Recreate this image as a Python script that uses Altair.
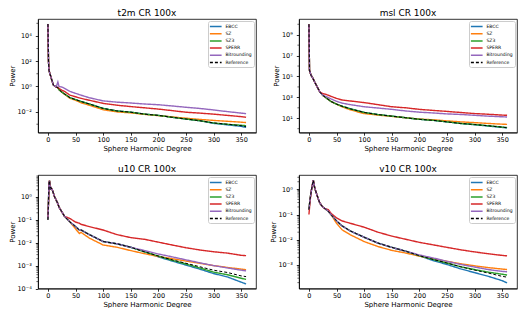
import altair as alt
import pandas as pd

METHODS = ["EBCC", "SZ", "SZ3", "SPERR", "Bitrounding", "Reference"]
COLORS = ["#1f77b4", "#ff7f0e", "#2ca02c", "#d62728", "#9467bd", "#000000"]
DASHES = [[1, 0], [1, 0], [1, 0], [1, 0], [1, 0], [3, 2]]
X_TICKS = [0, 50, 100, 150, 200, 250, 300, 350]

# ---------------- t2m ----------------
T2M_DEG = [0, 1, 2, 3, 5, 7, 10, 15, 18, 20, 25, 30, 40, 50, 60, 75, 100, 125, 150, 175, 200, 225, 250, 275, 300, 325, 350, 359]
T2M_REF = [89000, 100, 17.8, 12.6, 6.3, 3.2, 1.26, 0.89, 0.79, 0.56, 0.355, 0.25, 0.126, 0.089, 0.063, 0.040, 0.0178, 0.0112, 0.0089, 0.0063, 0.0050, 0.00355, 0.0026, 0.0019, 0.00126, 0.0010, 0.00076, 0.00063]
T2M_EBCC = [89000, 100, 17.8, 12.6, 6.3, 3.2, 1.26, 0.89, 0.79, 0.56, 0.355, 0.25, 0.126, 0.089, 0.063, 0.040, 0.0178, 0.0112, 0.0089, 0.0063, 0.0050, 0.00355, 0.0026, 0.0019, 0.00117, 0.00089, 0.00068, 0.00056]
T2M_SZ3 = [89000, 100, 17.8, 12.6, 6.3, 3.2, 1.26, 0.89, 0.79, 0.56, 0.355, 0.25, 0.126, 0.089, 0.063, 0.040, 0.0178, 0.0112, 0.0089, 0.0063, 0.0050, 0.00355, 0.0026, 0.0019, 0.00126, 0.00098, 0.00083, 0.00076]
T2M_SZ = [89000, 100, 17.8, 12.6, 6.3, 3.2, 1.26, 0.89, 0.79, 0.56, 0.355, 0.24, 0.112, 0.079, 0.050, 0.032, 0.0141, 0.0095, 0.0079, 0.0060, 0.0048, 0.0038, 0.0030, 0.0024, 0.0020, 0.0017, 0.00145, 0.00135]
T2M_SPERR = [89000, 100, 17.8, 12.6, 6.3, 3.2, 1.26, 0.89, 0.79, 0.71, 0.50, 0.40, 0.20, 0.15, 0.112, 0.079, 0.045, 0.032, 0.025, 0.020, 0.0158, 0.012, 0.0089, 0.0076, 0.0063, 0.0050, 0.0040, 0.00355]
T2M_BIT = [89000, 100, 17.8, 12.6, 6.3, 3.2, 1.26, 0.89, 2.24, 1.0, 0.89, 0.71, 0.40, 0.28, 0.20, 0.126, 0.071, 0.056, 0.048, 0.040, 0.035, 0.028, 0.022, 0.0178, 0.0135, 0.010, 0.0076, 0.0068]

# ---------------- msl ----------------
MSL_DEG = [0, 1, 2, 4, 7, 10, 15, 20, 25, 30, 40, 50, 60, 75, 100, 125, 150, 175, 200, 225, 250, 275, 300, 325, 350, 359]
MSL_REF = [1.0e10, 4.0e5, 2.5e5, 1.26e5, 7.1e4, 3.2e4, 1.0e4, 3160, 1580, 1000, 400, 224, 141, 79, 35.5, 22.4, 15.8, 11.2, 7.9, 6.3, 4.5, 3.16, 2.5, 1.9, 1.41, 1.26]
MSL_EBCC = [1.0e10, 4.0e5, 2.5e5, 1.26e5, 7.1e4, 3.2e4, 1.0e4, 3160, 1580, 1000, 400, 224, 141, 79, 35.5, 22.4, 15.8, 11.2, 7.9, 6.3, 4.5, 3.16, 2.4, 1.8, 1.32, 1.2]
MSL_SZ3 = [1.0e10, 4.0e5, 2.5e5, 1.26e5, 7.1e4, 3.2e4, 1.0e4, 3160, 1580, 1000, 400, 224, 141, 79, 35.5, 22.4, 15.8, 11.2, 7.9, 6.3, 4.5, 3.16, 2.5, 1.9, 1.41, 1.26]
MSL_SZ = [1.0e10, 4.0e5, 2.5e5, 1.26e5, 7.1e4, 3.2e4, 1.0e4, 3160, 1580, 1000, 400, 224, 126, 63, 28, 20, 15, 11.2, 8.3, 7.1, 5.6, 4.5, 3.8, 3.16, 2.7, 2.57]
MSL_SPERR = [1.0e10, 4.0e5, 2.5e5, 1.26e5, 7.1e4, 3.2e4, 1.0e4, 3160, 2240, 2000, 1260, 790, 560, 450, 316, 200, 126, 100, 71, 56, 45, 35.5, 28, 24, 20, 19]
MSL_BIT = [1.0e10, 4.0e5, 2.5e5, 1.26e5, 7.1e4, 3.2e4, 1.0e4, 3160, 1580, 1260, 710, 420, 280, 200, 126, 95, 71, 50, 38, 32, 26, 23, 19, 15.8, 13.8, 13.2]

# ---------------- u10 ----------------
U10_DEG = [0, 1, 2, 3, 4, 5, 6, 8, 10, 12, 15, 18, 20, 25, 30, 40, 50, 57, 60, 75, 100, 125, 150, 175, 200, 225, 250, 275, 300, 325, 350, 359]
U10_REF = [0.1, 0.63, 4.0, 5.0, 2.0, 2.6, 2.4, 2.0, 1.41, 1.0, 0.71, 0.5, 0.355, 0.224, 0.141, 0.079, 0.05, 0.0355, 0.0355, 0.0224, 0.0112, 0.0089, 0.0063, 0.0040, 0.0026, 0.00178, 0.00126, 0.00089, 0.00063, 0.0005, 0.000355, 0.00033]
U10_EBCC = [0.1, 0.63, 4.0, 5.0, 2.0, 2.6, 2.4, 2.0, 1.41, 1.0, 0.71, 0.5, 0.355, 0.224, 0.141, 0.079, 0.05, 0.0355, 0.0355, 0.0224, 0.0112, 0.0089, 0.0063, 0.0040, 0.0024, 0.00158, 0.00105, 0.0007, 0.00045, 0.00032, 0.00019, 0.000158]
U10_SZ3 = [0.1, 0.63, 4.0, 5.0, 2.0, 2.6, 2.4, 2.0, 1.41, 1.0, 0.71, 0.5, 0.355, 0.224, 0.141, 0.079, 0.05, 0.0355, 0.0355, 0.0224, 0.0112, 0.0089, 0.0063, 0.0040, 0.0026, 0.0017, 0.00117, 0.00079, 0.00052, 0.0004, 0.00028, 0.00025]
U10_SZ = [0.1, 0.63, 4.0, 5.0, 2.0, 2.6, 2.4, 2.0, 1.41, 1.0, 0.71, 0.5, 0.355, 0.224, 0.141, 0.079, 0.04, 0.025, 0.028, 0.0158, 0.0079, 0.0063, 0.0045, 0.0033, 0.0025, 0.0020, 0.00158, 0.00126, 0.0010, 0.00083, 0.0007, 0.00066]
U10_SPERR = [0.126, 0.45, 4.0, 5.0, 2.0, 2.6, 2.4, 2.0, 1.41, 1.0, 0.71, 0.5, 0.355, 0.224, 0.141, 0.112, 0.079, 0.07, 0.063, 0.05, 0.0355, 0.0224, 0.0166, 0.014, 0.0105, 0.0079, 0.006, 0.0048, 0.004, 0.0035, 0.0028, 0.0027]
U10_BIT = [0.1, 0.63, 4.0, 5.0, 2.0, 2.6, 2.4, 2.0, 1.41, 1.0, 0.71, 0.5, 0.355, 0.224, 0.141, 0.079, 0.05, 0.0355, 0.0355, 0.0224, 0.0112, 0.0089, 0.0063, 0.0045, 0.0032, 0.0024, 0.00178, 0.00132, 0.0010, 0.00079, 0.00063, 0.00059]

# ---------------- v10 ----------------
V10_DEG = [0, 2, 4, 6, 8, 10, 12, 15, 18, 20, 25, 30, 35, 40, 50, 60, 75, 100, 125, 150, 175, 200, 225, 250, 275, 300, 325, 350, 359]
V10_REF = [0.158, 0.4, 0.79, 1.41, 2.3, 1.26, 0.89, 0.56, 0.355, 0.28, 0.2, 0.166, 0.135, 0.1, 0.056, 0.0355, 0.0224, 0.0126, 0.0074, 0.005, 0.00355, 0.00234, 0.00166, 0.0012, 0.00085, 0.00063, 0.00048, 0.000355, 0.00033]
V10_EBCC = [0.158, 0.4, 0.79, 1.41, 2.3, 1.26, 0.89, 0.56, 0.355, 0.28, 0.2, 0.166, 0.135, 0.1, 0.056, 0.0355, 0.0224, 0.0126, 0.0074, 0.005, 0.00355, 0.00234, 0.0015, 0.00105, 0.0007, 0.0005, 0.000355, 0.00024, 0.000195]
V10_SZ3 = [0.158, 0.4, 0.79, 1.41, 2.3, 1.26, 0.89, 0.56, 0.355, 0.28, 0.2, 0.166, 0.135, 0.1, 0.056, 0.0355, 0.0224, 0.0126, 0.0074, 0.005, 0.00355, 0.00234, 0.00166, 0.0012, 0.00085, 0.00066, 0.00052, 0.00043, 0.0004]
V10_SZ = [0.158, 0.4, 0.79, 1.41, 2.3, 1.26, 0.89, 0.56, 0.355, 0.28, 0.2, 0.166, 0.135, 0.1, 0.045, 0.025, 0.0158, 0.0085, 0.0054, 0.0038, 0.003, 0.00224, 0.00178, 0.0014, 0.00112, 0.00093, 0.00079, 0.00069, 0.00066]
V10_SPERR = [0.1, 0.32, 0.79, 1.41, 2.3, 1.26, 0.89, 0.56, 0.355, 0.28, 0.2, 0.166, 0.158, 0.112, 0.074, 0.056, 0.045, 0.0316, 0.02, 0.014, 0.0105, 0.0079, 0.0063, 0.005, 0.004, 0.0033, 0.0028, 0.0024, 0.0023]
V10_BIT = [0.158, 0.4, 0.79, 1.41, 2.3, 1.26, 0.89, 0.56, 0.355, 0.28, 0.2, 0.166, 0.135, 0.1, 0.056, 0.0355, 0.0224, 0.0126, 0.0074, 0.005, 0.00355, 0.0025, 0.0019, 0.0014, 0.00105, 0.00083, 0.00066, 0.00056, 0.00054]

SUP = {"0": "\u2070", "1": "\u00b9", "2": "\u00b2", "3": "\u00b3", "4": "\u2074",
       "5": "\u2075", "6": "\u2076", "7": "\u2077", "8": "\u2078", "9": "\u2079", "-": "\u207b"}

FONT = "DejaVu Sans"


def label_expr(exps):
    parts = []
    for e in exps:
        lab = "10" + "".join(SUP[c] for c in str(e))
        parts.append(f"round(log(datum.value)/LN10) == {e} ? '{lab}'")
    return " : ".join(parts) + " : ''"


def minor_ticks(ydom, exps, subs):
    lo, hi = ydom
    vals = []
    for k in range(-6, 12):
        for s in subs:
            v = s * 10.0 ** k
            if lo <= v <= hi and not (s == 1 and k in exps):
                vals.append(v)
    return vals


def panel(title, deg, series, ydom, exps, subs):
    rows = []
    for m in METHODS:
        for d, v in zip(deg, series[m]):
            rows.append({"deg": d, "power": v, "method": m})
    df = pd.DataFrame(rows)
    legend = alt.Legend(title=None, orient="top-right", offset=2, padding=1.5,
                        fillColor="white", strokeColor="#cccccc", cornerRadius=2,
                        labelFontSize=4.5, labelFont=FONT, labelColor="black",
                        symbolType="M-1.2,0L2.7,0", symbolSize=36, symbolStrokeWidth=1.5,
                        rowPadding=0.2, labelOffset=8)
    yscale = alt.Scale(type="log", domain=ydom, nice=False)
    x = alt.X("deg:Q", scale=alt.Scale(domain=[-18, 377], nice=False, zero=False),
              axis=alt.Axis(title="Sphere Harmonic Degree", values=X_TICKS,
                            titlePadding=1, labelPadding=1.5))
    y = alt.Y("power:Q", scale=yscale,
              axis=alt.Axis(title="Power", values=[10.0 ** e for e in exps],
                            labelExpr=label_expr(exps), labelPadding=4, titlePadding=1.5))
    color = alt.Color("method:N", scale=alt.Scale(domain=METHODS, range=COLORS), legend=legend)
    dash = alt.StrokeDash("method:N", scale=alt.Scale(domain=METHODS, range=DASHES), legend=legend)
    base = alt.Chart(df).mark_line(strokeWidth=1.4, clip=True).encode(
        x=x, y=y, color=color, strokeDash=dash)
    lines = base.transform_filter(alt.datum.method != "Reference")
    ref = base.transform_filter(alt.datum.method == "Reference").mark_line(strokeWidth=1.0, clip=True)
    minor = alt.Chart(pd.DataFrame({"power": minor_ticks(ydom, exps, subs)})).mark_rule(
        color="black", strokeWidth=0.6).encode(
        x=alt.value(-1.6), x2=alt.value(0), y=y)
    return alt.layer(lines, ref, minor).properties(
        title=alt.TitleParams(title, fontSize=9, fontWeight="normal", font=FONT, offset=1.5, color="black"),
        width=218, height=113.5)


p1 = panel("t2m CR 100x", T2M_DEG,
           {"EBCC": T2M_EBCC, "SZ": T2M_SZ, "SZ3": T2M_SZ3, "SPERR": T2M_SPERR,
            "Bitrounding": T2M_BIT, "Reference": T2M_REF},
           [2.2e-4, 2.2e5], [-2, 0, 2, 4], [1])
p2 = panel("msl CR 100x", MSL_DEG,
           {"EBCC": MSL_EBCC, "SZ": MSL_SZ, "SZ3": MSL_SZ3, "SPERR": MSL_SPERR,
            "Bitrounding": MSL_BIT, "Reference": MSL_REF},
           [0.43, 3.2e10], [1, 3, 5, 7, 9], [1])
p3 = panel("u10 CR 100x", U10_DEG,
           {"EBCC": U10_EBCC, "SZ": U10_SZ, "SZ3": U10_SZ3, "SPERR": U10_SPERR,
            "Bitrounding": U10_BIT, "Reference": U10_REF},
           [1.0e-4, 8.9], [-4, -3, -2, -1, 0], [2, 3, 4, 5, 6, 7, 8, 9])
p4 = panel("v10 CR 100x", V10_DEG,
           {"EBCC": V10_EBCC, "SZ": V10_SZ, "SZ3": V10_SZ3, "SPERR": V10_SPERR,
            "Bitrounding": V10_BIT, "Reference": V10_REF},
           [1.17e-4, 3.7], [-3, -2, -1, 0], [2, 3, 4, 5, 6, 7, 8, 9])

chart = alt.concat(p1, p2, p3, p4, columns=2, spacing={"row": 42, "column": 43}, bounds="flush").resolve_scale(
    color="independent", strokeDash="independent"
).properties(padding=0).configure_axis(
    labelFont=FONT, titleFont=FONT, labelFontSize=6.5, titleFontSize=7,
    labelColor="black", titleColor="black", domainColor="black", tickColor="black",
    domainWidth=0.8, tickWidth=0.8, tickSize=2.7, grid=False,
    titleFontWeight="normal"
).configure_view(stroke="black", strokeWidth=0.8)

chart.save("out.html", embed_options={"renderer": "svg", "actions": False})
